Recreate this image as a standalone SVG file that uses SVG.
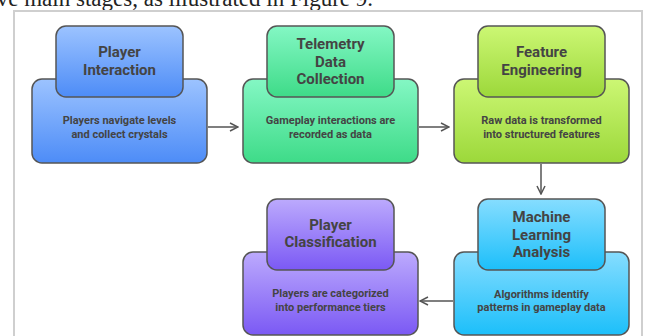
<svg xmlns="http://www.w3.org/2000/svg" width="647" height="336" viewBox="0 0 647 336">
<defs>
<linearGradient id="gBlue" x1="0" y1="0" x2="0" y2="1"><stop offset="0" stop-color="#9cc3ff"/><stop offset="1" stop-color="#4d8cf7"/></linearGradient>
<linearGradient id="gGreen" x1="0" y1="0" x2="0" y2="1"><stop offset="0" stop-color="#84f7c4"/><stop offset="1" stop-color="#3edb88"/></linearGradient>
<linearGradient id="gLime" x1="0" y1="0" x2="0" y2="1"><stop offset="0" stop-color="#ccf774"/><stop offset="1" stop-color="#9cd83a"/></linearGradient>
<linearGradient id="gSky" x1="0" y1="0" x2="0" y2="1"><stop offset="0" stop-color="#86ddff"/><stop offset="1" stop-color="#1cbffa"/></linearGradient>
<linearGradient id="gPurple" x1="0" y1="0" x2="0" y2="1"><stop offset="0" stop-color="#bcaafd"/><stop offset="1" stop-color="#7b59f4"/></linearGradient>
<marker id="arr" viewBox="0 0 10 10" refX="9" refY="5" markerWidth="10" markerHeight="10" markerUnits="userSpaceOnUse" orient="auto">
<path d="M1,1 L9,5 L1,9" fill="none" stroke="#555" stroke-width="1.5"/>
</marker>
</defs>
<style>
.box{stroke:#555;stroke-width:1.5}
.t{font-family:Roboto,"Liberation Sans",sans-serif;font-weight:bold;font-size:15px;fill:#444;text-anchor:middle}
.d{font-family:Roboto,"Liberation Sans",sans-serif;font-weight:bold;font-size:11px;fill:#444;text-anchor:middle}
.c{fill:none;stroke:#555;stroke-width:1.5}
</style>
<text x="373" y="6" font-family="'Liberation Serif',serif" font-size="23" fill="#222" text-anchor="end">ve main stages, as illustrated in Figure 9.</text>
<rect x="14" y="11" width="628" height="345" fill="#fff" stroke="#cfcfcf" stroke-width="2"/>
<g id="connectors">
<line class="c" x1="208" y1="127" x2="238" y2="127" marker-end="url(#arr)"/>
<line class="c" x1="419" y1="127" x2="449" y2="127" marker-end="url(#arr)"/>
<line class="c" x1="541" y1="164" x2="541" y2="194" marker-end="url(#arr)"/>
<line class="c" x1="453" y1="301" x2="420" y2="301" marker-end="url(#arr)"/>
</g>
<g id="player-interaction">
<rect class="box" x="32" y="79" width="175" height="84" rx="10" fill="url(#gBlue)"/>
<rect class="box" x="56" y="26" width="127" height="71" rx="10" fill="url(#gBlue)"/>
<text class="t" x="119.5" y="57">Player</text>
<text class="t" x="119.5" y="75">Interaction</text>
<text class="d" x="119.5" y="124">Players navigate levels</text>
<text class="d" x="119.5" y="138">and collect crystals</text>
</g>
<g id="telemetry-data-collection">
<rect class="box" x="243" y="79" width="175" height="84" rx="10" fill="url(#gGreen)"/>
<rect class="box" x="267" y="26" width="127" height="71" rx="10" fill="url(#gGreen)"/>
<text class="t" x="330.5" y="49">Telemetry</text>
<text class="t" x="330.5" y="67">Data</text>
<text class="t" x="330.5" y="84">Collection</text>
<text class="d" x="330.5" y="124">Gameplay interactions are</text>
<text class="d" x="330.5" y="138">recorded as data</text>
</g>
<g id="feature-engineering">
<rect class="box" x="454" y="79" width="175" height="84" rx="10" fill="url(#gLime)"/>
<rect class="box" x="478" y="26" width="127" height="71" rx="10" fill="url(#gLime)"/>
<text class="t" x="541.5" y="57">Feature</text>
<text class="t" x="541.5" y="75">Engineering</text>
<text class="d" x="541.5" y="124">Raw data is transformed</text>
<text class="d" x="541.5" y="138">into structured features</text>
</g>
<g id="machine-learning-analysis">
<rect class="box" x="454" y="252" width="175" height="83" rx="10" fill="url(#gSky)"/>
<rect class="box" x="478" y="199" width="127" height="71" rx="10" fill="url(#gSky)"/>
<text class="t" x="541.5" y="222">Machine</text>
<text class="t" x="541.5" y="239.5">Learning</text>
<text class="t" x="541.5" y="257">Analysis</text>
<text class="d" x="541.5" y="298">Algorithms identify</text>
<text class="d" x="541.5" y="311">patterns in gameplay data</text>
</g>
<g id="player-classification">
<rect class="box" x="243" y="252" width="175" height="83" rx="10" fill="url(#gPurple)"/>
<rect class="box" x="267" y="199" width="127" height="71" rx="10" fill="url(#gPurple)"/>
<text class="t" x="330.5" y="230">Player</text>
<text class="t" x="330.5" y="247">Classification</text>
<text class="d" x="330.5" y="297">Players are categorized</text>
<text class="d" x="330.5" y="311">into performance tiers</text>
</g>
</svg>
